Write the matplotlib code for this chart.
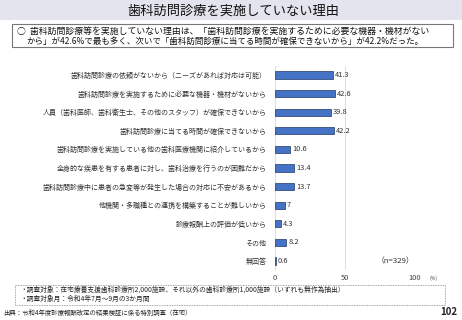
import matplotlib.pyplot as plt
from matplotlib.patches import Rectangle

plt.rcParams['font.family'] = ['Noto Sans CJK JP', 'DejaVu Sans']

# data
reasons = [
    "歯科訪問診療の依頼がないから（ニーズがあれば対応は可能）",
    "歯科訪問診療を実施するために必要な機器・機材がないから",
    "人員（歯科医師、歯科衛生士、その他のスタッフ）が確保できないから",
    "歯科訪問診療に当てる時間が確保できないから",
    "歯科訪問診療を実施している他の歯科医療機関に紹介しているから",
    "全身的な疾患を有する患者に対し、歯科治療を行うのが困難だから",
    "歯科訪問診療中に患者の急変等が発生した場合の対応に不安があるから",
    "他機関・多職種との連携を構築することが難しいから",
    "診療報酬上の評価が低いから",
    "その他",
    "無回答",
]
values = [41.3, 42.6, 39.8, 42.2, 10.6, 13.4, 13.7, 7, 4.3, 8.2, 0.6]
value_labels = ["41.3", "42.6", "39.8", "42.2", "10.6", "13.4", "13.7", "7", "4.3", "8.2", "0.6"]
xticks = [0, 50, 100]

W, H = 462, 320
fig = plt.figure(figsize=(W / 100, H / 100), dpi=100)


def px(x, y):
    # pixel coords (top-left origin) -> figure fraction
    return x / W, 1 - y / H


# title bar
fig.patches.append(Rectangle((0, 1 - 20 / H), 1, 20 / H, transform=fig.transFigure,
                             facecolor="#e4e4ee", edgecolor="none"))
fig.text(*px(233, 11), "歯科訪問診療を実施していない理由", ha="center", va="center",
         fontsize=9.5, color="#111111")

# summary box
fig.patches.append(Rectangle(px(12, 47), (453 - 12) / W, 23 / H, transform=fig.transFigure,
                             facecolor="white", edgecolor="#777777", linewidth=0.8))
fig.text(*px(17, 31), "○  歯科訪問診療等を実施していない理由は、「歯科訪問診療を実施するために必要な機器・機材がない",
         ha="left", va="center", fontsize=6.4, color="#111111")
fig.text(*px(26, 41), "から」が42.6%で最も多く、次いで「歯科訪問診療に当てる時間が確保できないから」が42.2%だった。",
         ha="left", va="center", fontsize=6.1, color="#111111")

# chart
top, bottom = 65.7, 270.3
left, right = 275, 415
ax = fig.add_axes([left / W, 1 - bottom / H, (right - left) / W, (bottom - top) / H])
y = range(len(reasons))
ax.barh(y, values, height=0.38, color="#4472c4", edgecolor="#1f3864", linewidth=0.5, zorder=3)
for i, (v, lab) in enumerate(zip(values, value_labels)):
    ax.text(v + 1.5, i, lab, ha="left", va="center", fontsize=5.4, color="#333333")
ax.set_xlim(0, 100)
ax.set_ylim(len(reasons) - 0.5, -0.5)
ax.set_yticks(list(y))
ax.set_yticklabels(reasons, fontsize=5.05, color="#333333")
ax.set_xticks(xticks)
ax.set_xticklabels([str(t) for t in xticks], fontsize=5.4, color="#444444")
ax.tick_params(length=0)
ax.tick_params(axis="y", pad=6)
ax.tick_params(axis="x", pad=2.5)
for t in xticks:
    ax.axvline(t, color="#dddddd", linewidth=0.7, zorder=1)
for s in ax.spines.values():
    s.set_visible(False)
ax.text(86, 10, "（n=329）", ha="center", va="center", fontsize=5.6, color="#333333")

fig.text(*px(433, 278), "(%)", ha="center", va="center", fontsize=3.5, color="#444444")

# footnote box
fig.patches.append(Rectangle(px(15, 305), (445 - 15) / W, 20 / H, transform=fig.transFigure,
                             facecolor="white", edgecolor="#888888", linewidth=0.6, linestyle=(0, (1, 1))))
fig.text(*px(20, 290), "・調査対象：在宅療養支援歯科診療所2,000施設、それ以外の歯科診療所1,000施設（いずれも無作為抽出）",
         ha="left", va="center", fontsize=4.85, color="#222222")
fig.text(*px(20, 299), "・調査対象月：令和4年7月～9月の3か月間",
         ha="left", va="center", fontsize=4.85, color="#222222")

fig.text(*px(3, 313), "出典：令和4年度診療報酬改定の結果検証に係る特別調査（在宅）",
         ha="left", va="center", fontsize=4.6, color="#222222")
fig.text(*px(457, 312), "102", ha="right", va="center", fontsize=7, fontweight="bold", color="#222222")

fig.savefig("out.png", dpi=100)
